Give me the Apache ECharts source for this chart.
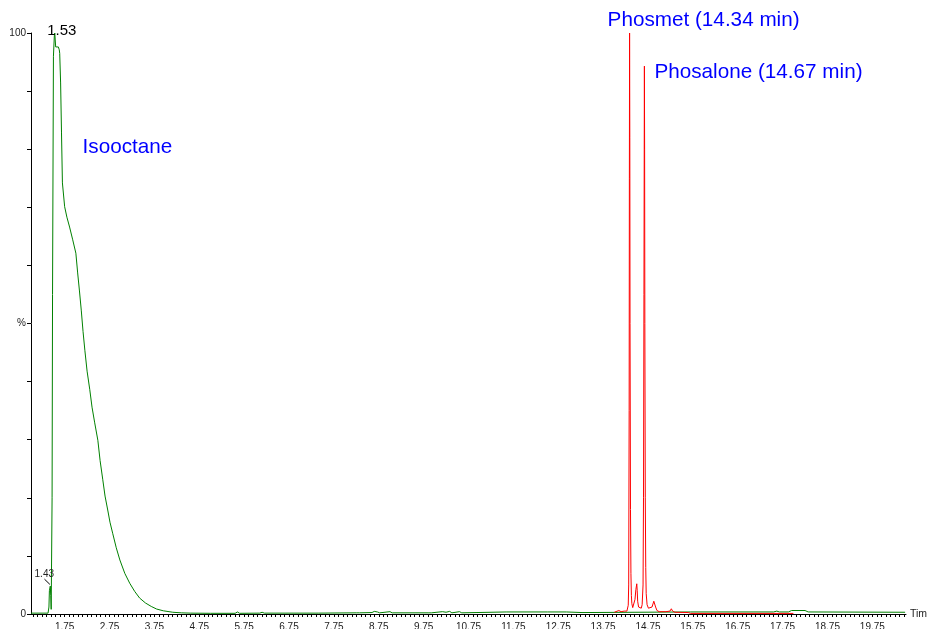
<!DOCTYPE html>
<html>
<head>
<meta charset="utf-8">
<script src="https://cdn.jsdelivr.net/npm/echarts@6/dist/echarts.min.js"></script>
<style>
  html, body { margin: 0; padding: 0; background: #fff; }
  #chart { width: 927px; height: 629px; }
</style>
</head>
<body>
<div id="chart"></div>
<script>
// Total ion chromatogram (solvent trace), retention time in min / relative intensity in %
const solventTime = [
  1.00, 1.38, 1.40, 1.41, 1.43, 1.44, 1.45, 1.46, 1.47, 1.48, 1.50, 1.52, 1.53, 1.54, 1.55,
  1.58, 1.61, 1.63, 1.64, 1.66, 1.68, 1.70, 1.75, 1.80, 1.86, 1.93, 2.00, 2.04, 2.08, 2.12,
  2.16, 2.20, 2.25, 2.31, 2.36, 2.42, 2.49, 2.54, 2.60, 2.65, 2.71, 2.76, 2.82, 2.90, 2.98,
  3.09, 3.20, 3.31, 3.42, 3.55, 3.68, 3.80, 3.95, 4.16, 4.35, 4.55, 5.00, 5.55, 5.60, 5.65,
  6.10, 6.15, 6.20, 7.33, 7.36, 7.40, 8.25, 8.28, 8.32, 8.60, 8.65, 8.72, 8.77, 9.00, 9.05,
  9.85, 9.88, 9.92, 10.17, 10.25, 10.33, 10.38, 10.55, 10.60, 11.59, 11.63, 12.51, 12.55,
  12.93, 12.97, 13.28, 13.32, 15.70, 17.55, 17.62, 17.68, 17.88, 17.95, 18.25, 18.32, 20.48
];
const solventIntensity = [
  0.15, 0.15, 1.2, 4.0, 4.8, 3.2, 0.8, 0.7, 20, 55, 96, 99.5, 100, 98.8, 97.6,
  97.4, 97.6, 97.1, 96.5, 91.4, 82.8, 74.2, 70.1, 68.3, 66.6, 64.4, 62.1, 58.7, 55.6, 52.3,
  48.6, 45.4, 41.8, 38.6, 35.6, 32.9, 29.9, 26.4, 23.1, 20.3, 17.9, 15.8, 13.9, 11.4, 9.3,
  7.0, 5.3, 3.9, 2.75, 1.9, 1.3, 0.85, 0.55, 0.3, 0.2, 0.15, 0.12, 0.12, 0.35, 0.12,
  0.15, 0.3, 0.15, 0.15, 0.35, 0.15, 0.2, 0.4, 0.2, 0.25, 0.45, 0.35, 0.2, 0.4, 0.2,
  0.2, 0.45, 0.2, 0.4, 0.3, 0.45, 0.2, 0.4, 0.2, 0.35, 0.2, 0.35, 0.2,
  0.35, 0.2, 0.25, 0.4, 0.35, 0.35, 0.5, 0.35, 0.35, 0.6, 0.6, 0.35, 0.3
];

// Selected-ion trace for the two organophosphates
const analyteTime = [
  14.00, 14.04, 14.10, 14.15, 14.22, 14.28, 14.30, 14.31, 14.32, 14.33, 14.335, 14.34, 14.345,
  14.35, 14.36, 14.37, 14.38, 14.39, 14.41, 14.44, 14.46, 14.48, 14.50, 14.51, 14.52, 14.54,
  14.57, 14.60, 14.62, 14.64, 14.65, 14.66, 14.67, 14.675, 14.68, 14.69, 14.70, 14.71, 14.73,
  14.76, 14.80, 14.84, 14.88, 14.90, 14.92, 14.95, 15.00, 15.15, 15.24, 15.27, 15.30, 15.35,
  15.65, 15.70, 17.99
];
const analyteIntensity = [
  0.3, 0.6, 0.6, 0.4, 0.5, 0.5, 0.7, 1.5, 5, 35, 75, 100, 82,
  50, 18, 7, 3.2, 1.8, 1.1, 1.2, 2.5, 4.2, 5.2, 4.0, 2.2, 1.2,
  0.9, 1.0, 1.6, 5, 20, 55, 94.3, 80, 50, 20, 8, 3.5, 1.6,
  1.0, 0.8, 1.2, 2.2, 2.0, 1.2, 0.6, 0.4, 0.4, 0.5, 0.9, 0.5, 0.3,
  0.25, 0.1, 0.1
];

// Peak annotations
const solventPeaks = [1.43, 1.53];
const solventPeakHeights = [4.8, 100];
const analyteNames = ['Phosmet', 'Phosalone'];
const analytePeaks = [14.34, 14.67];
const analytePeakHeights = [100, 94.3];

// Axis tick labels
const timeLabels = [1.75, 2.75, 3.75, 4.75, 5.75, 6.75, 7.75, 8.75, 9.75, 10.75,
  11.75, 12.75, 13.75, 14.75, 15.75, 16.75, 17.75, 18.75, 19.75];
const intensityLabelValues = [0, 50, 100];
const intensityLabelTexts = ['0', '%', '100'];

const TIME_MIN = 1.0, TIME_MAX = 20.5;

// minor ticks every 0.1 min, in step with the labelled .75 positions
const minorTicks = [];
for (let k = 0; ; k++) {
  const v = Math.round((1.05 + k * 0.1) * 100) / 100;
  if (v > TIME_MAX) break;
  minorTicks.push(v);
}

const zip = (a, b) => a.map((t, i) => [t, b[i]]);
const FONT = '"Liberation Sans", Arial, sans-serif';
const AXIS_TEXT = '#222';
const NOTE_SIZE = 20.7;

const chart = echarts.init(document.getElementById('chart'), null, { renderer: 'canvas' });

chart.setOption({
  animation: false,
  backgroundColor: '#fff',
  textStyle: { fontFamily: FONT },
  grid: { left: 31, right: 21, top: 33, bottom: 15, containLabel: false, outerBoundsMode: 'none' },
  xAxis: {
    type: 'value',
    min: TIME_MIN,
    max: TIME_MAX,
    name: 'Time',
    nameLocation: 'end',
    nameGap: 4,
    nameTextStyle: { fontSize: 10.5, color: AXIS_TEXT, fontFamily: FONT, verticalAlign: 'middle' },
    axisLine: { show: true, onZero: false, lineStyle: { color: '#000', width: 1 } },
    axisTick: { show: true, customValues: minorTicks, length: 3, lineStyle: { color: '#000', width: 1 } },
    axisLabel: {
      show: true, customValues: timeLabels, margin: 8, fontSize: 10, color: AXIS_TEXT,
      fontFamily: FONT, formatter: v => v.toFixed(2)
    },
    splitLine: { show: false }
  },
  yAxis: {
    type: 'value',
    min: 0,
    max: 100,
    interval: 10,
    axisLine: { show: true, lineStyle: { color: '#000', width: 1 } },
    axisTick: { show: true, length: 4, lineStyle: { color: '#000', width: 1 } },
    axisLabel: {
      show: true, margin: 5, fontSize: 10, color: AXIS_TEXT, fontFamily: FONT,
      formatter: v => {
        const i = intensityLabelValues.indexOf(v);
        return i >= 0 ? intensityLabelTexts[i] : '';
      }
    },
    splitLine: { show: false }
  },
  series: [
    {
      name: 'Solvent',
      type: 'line',
      data: zip(solventTime, solventIntensity),
      showSymbol: false,
      symbol: 'none',
      lineStyle: { color: '#008000', width: 1 },
      itemStyle: { color: '#008000' },
      z: 2,
      markPoint: {
        symbol: 'circle',
        symbolSize: 1,
        itemStyle: { color: 'rgba(0,0,0,0)' },
        silent: true,
        data: [
          {
            coord: [solventPeaks[1], solventPeakHeights[1]],
            label: {
              show: true, position: 'inside', formatter: solventPeaks[1].toFixed(2),
              fontSize: 15, color: '#000', fontFamily: FONT,
              align: 'center', verticalAlign: 'middle', offset: [7, -2]
            }
          },
          {
            coord: [solventPeaks[0], solventPeakHeights[0]],
            label: {
              show: true, position: 'inside', formatter: solventPeaks[0].toFixed(2),
              fontSize: 10, color: '#222', fontFamily: FONT,
              align: 'center', verticalAlign: 'middle', offset: [-6, -12]
            }
          },
          {
            coord: [2.15, 80.4],
            label: {
              show: true, position: 'inside', formatter: 'Isooctane',
              fontSize: NOTE_SIZE, color: '#0000ff', fontFamily: FONT,
              align: 'left', verticalAlign: 'middle'
            }
          }
        ]
      },
      markLine: {
        silent: true,
        symbol: 'none',
        label: { show: false },
        lineStyle: { color: '#000', width: 1, type: 'solid' },
        data: [[{ coord: [1.30, 6.0] }, { coord: [1.42, 5.1] }]]
      }
    },
    {
      name: 'Analytes',
      type: 'line',
      data: zip(analyteTime, analyteIntensity),
      showSymbol: false,
      symbol: 'none',
      lineStyle: { color: '#ff0000', width: 1 },
      itemStyle: { color: '#ff0000' },
      z: 3,
      markPoint: {
        symbol: 'circle',
        symbolSize: 1,
        itemStyle: { color: 'rgba(0,0,0,0)' },
        silent: true,
        data: [
          {
            coord: [analytePeaks[0], analytePeakHeights[0]],
            label: {
              show: true, position: 'inside',
              formatter: analyteNames[0] + ' (' + analytePeaks[0].toFixed(2) + ' min)',
              fontSize: NOTE_SIZE, color: '#0000ff', fontFamily: FONT,
              align: 'left', verticalAlign: 'middle', offset: [-22, -13]
            }
          },
          {
            coord: [analytePeaks[1], analytePeakHeights[1]],
            label: {
              show: true, position: 'inside',
              formatter: analyteNames[1] + ' (' + analytePeaks[1].toFixed(2) + ' min)',
              fontSize: NOTE_SIZE, color: '#0000ff', fontFamily: FONT,
              align: 'left', verticalAlign: 'middle', offset: [10, 6]
            }
          }
        ]
      }
    }
  ]
});
</script>
</body>
</html>
